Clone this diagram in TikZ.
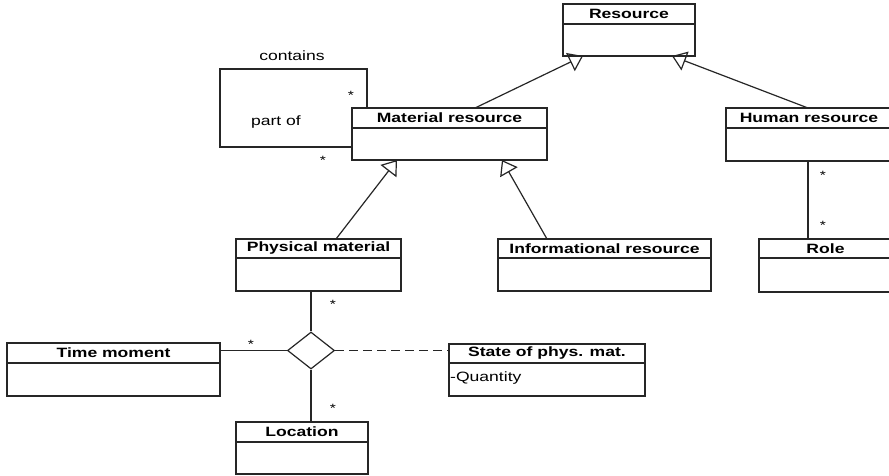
\documentclass[tikz,border=0pt]{standalone}
\usepackage{fontspec}
\setmainfont{Liberation Sans}
\newfontfamily\umlfont[FakeStretch=1.3]{Liberation Sans}
\usetikzlibrary{arrows.meta,shapes.geometric}

\tikzset{
  umlline/.style={line width=1.2pt, draw=black!85},
  clsbox/.style={umlline, draw, rectangle, inner sep=0pt, outer sep=0pt, anchor=north west},
  clstitle/.style={inner sep=0pt, font=\umlfont\bfseries\fontsize{13.5}{15}\selectfont},
  lbl/.style={inner sep=0pt, font=\umlfont\fontsize{13.5}{15}\selectfont},
  mult/.style={inner sep=0pt, font=\umlfont\fontsize{12}{13}\selectfont},
  assoc/.style={umlline},
  gen/.style={umlline, -{Triangle[open, length=14pt, width=20pt, line width=1.2pt]}},
  link/.style={umlline, dash pattern=on 9pt off 5pt},
  relation/.style={umlline, draw, shape=diamond, fill=white, inner sep=0pt,
    minimum width=47pt, minimum height=37pt},
}

% name, left, top, right, bottom, divider, title
\newcommand\umlclass[7]{%
  \node[clsbox, minimum width={(#4-#2)*1pt}, minimum height={(#5-#3)*1pt}] (#1) at (#2,#3) {};
  \draw[umlline] (#1.west |- 0,#6) -- (#1.east |- 0,#6);
  \node[clstitle] (#1-title) at ({(#2+#4)/2},{(#3+#6)/2}) {#7};
}

\begin{document}
\begin{tikzpicture}[x=1pt, y=-1pt]
  \useasboundingbox (0,0) rectangle (889,475);
  \clip (0,0) rectangle (889,475);
  \fill[white] (0,0) rectangle (889,475);

  % classes
  \umlclass{res}{563}{4}{695}{56}{24}{Resource}
  \umlclass{mat}{352}{108}{547}{160}{128}{Material resource}
  \umlclass{hum}{726}{108}{892}{161}{128}{Human resource}
  \umlclass{phys}{236}{239}{401}{291}{258}{Physical material}
  \umlclass{info}{498}{239}{711}{291}{258}{Informational resource}
  \umlclass{role}{759}{239}{892}{292}{258}{Role}
  \umlclass{time}{7}{343}{220}{396}{363}{Time moment}
  \umlclass{state}{449}{344}{645}{396}{363}{State of phys. mat.}
  \umlclass{loc}{236}{422}{368}{474}{442}{Location}

  \node[lbl, anchor=west] (qty) at ([xshift=1pt]state.west |- 0,378) {-Quantity};

  % n-ary association
  \node[relation] (dia) at (311,350.5) {};

  % generalizations
  \draw[gen] ([xshift=123pt]mat.north west) -- ([xshift=20pt]res.south west);
  \draw[gen] ([xshift=82pt]hum.north west) -- ([xshift=109pt]res.south west);
  \draw[gen] ([xshift=100pt]phys.north west) -- ([xshift=45pt]mat.south west);
  \draw[gen] ([xshift=49pt]info.north west) -- ([xshift=150pt]mat.south west);

  % associations
  \draw[assoc] ([xshift=82pt]hum.south west) -- ([xshift=49pt]role.north west);
  \draw[assoc] (dia.north |- phys.south) -- (dia.north);
  \draw[assoc] (dia.south |- loc.north) -- (dia.south);
  \draw[assoc] (time.east |- dia.west) -- (dia.west);
  \draw[link] (dia.east) -- (state.west |- dia.east);

  % self association of material resources
  \coordinate (loopA) at ([xshift=15pt]mat.north west);
  \coordinate (loopB) at ([yshift=-39pt]mat.north west);
  \draw[assoc] (loopA) -- (loopA |- 0,69) -- (220,69) -- (220,147) -- (loopB);
  \node[lbl] (contains) at (292,56) {contains};
  \node[lbl] (partof) at (276,122) {part of};

  % multiplicities
  \node[mult] (m1) at (351,95) {*};
  \node[mult] (m2) at (323,160) {*};
  \node[mult] (m3) at (823,175) {*};
  \node[mult] (m4) at (823,225) {*};
  \node[mult] (m5) at (333,304) {*};
  \node[mult] (m6) at (251,344) {*};
  \node[mult] (m7) at (333,408) {*};
\end{tikzpicture}
\end{document}
